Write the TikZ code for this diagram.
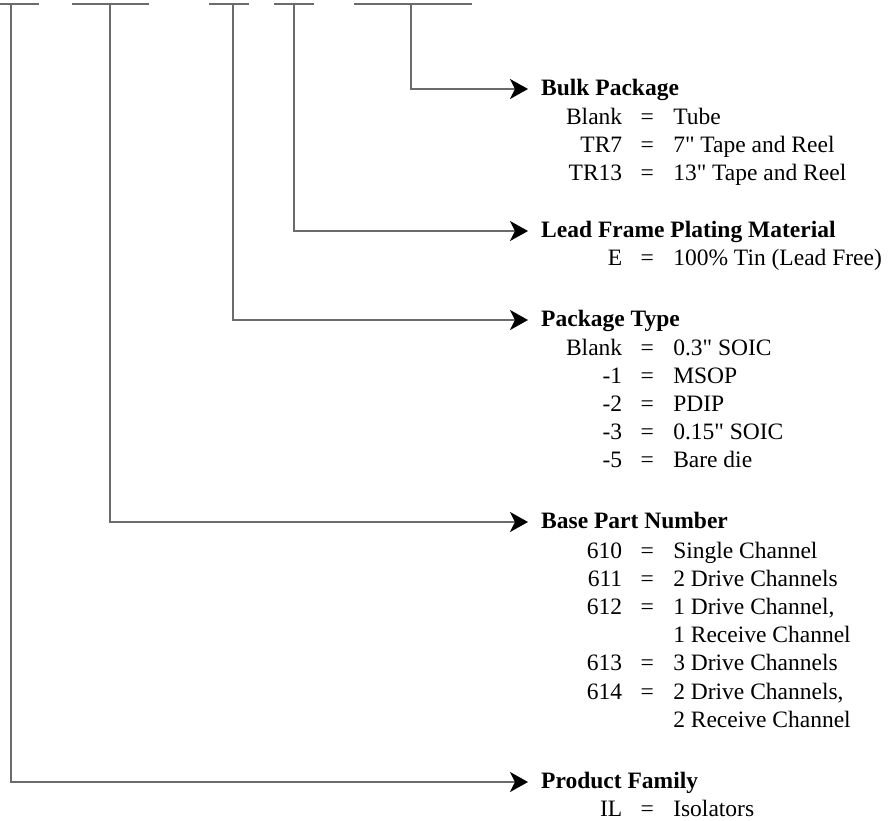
\documentclass[tikz,border=0pt]{standalone}
\usepackage{fontspec}
\setmainfont{Liberation Serif}[Ligatures=TeXOff]
\usepackage{array}
\usetikzlibrary{arrows.meta,positioning}

\newcommand{\partfont}{\fontsize{23.5}{28.2}\selectfont}
\newcolumntype{K}{>{\raggedleft\arraybackslash}p{81pt}}
\newenvironment{optlist}{\begin{tabular}[t]{@{}K@{\hspace{18.4pt}}c@{\hspace{19.4pt}}l@{}}}{\end{tabular}}

\begin{document}
\begin{tikzpicture}[
  x=1pt, y=-1pt, font=\partfont,
  wire/.style={draw=black!58, line width=2pt},
  ptr/.style={wire, -{Stealth[length=18pt, width=20pt, inset=5pt, color=black]}},
  head/.style={anchor=west, font=\partfont\bfseries, inner xsep=13pt, inner ysep=0pt,
               text height=13pt, text depth=0pt},
  opts/.style={anchor=base west, inner sep=0pt}
]
  \useasboundingbox (0,0) rectangle (888,820);

  % bars of the part number, one stem each
  \foreach \l/\r/\s/\n in {0/39/11/family, 72/149/110/base, 209/249/233/pkg,
                           274/314/294/plating, 354/472/411/bulk}{
    \draw[wire] (\l,4) -- (\r,4);
    \coordinate (\n-top) at (\s,4);
  }

  % field names
  \node[head] (bulk)    at (528,89)  {Bulk Package};
  \node[head] (plating) at (528,231) {Lead Frame Plating Material};
  \node[head] (pkg)     at (528,320) {Package Type};
  \node[head] (base)    at (528,522) {Base Part Number};
  \node[head] (family)  at (528,782) {Product Family};

  % options
  \node[opts] (bulk-opts) at (541,124) {\begin{optlist}
    Blank & = & Tube\\
    TR7 & = & 7" Tape and Reel\\
    TR13 & = & 13" Tape and Reel
  \end{optlist}};
  \node[opts] (plating-opts) at (541,265) {\begin{optlist}
    E & = & 100\% Tin (Lead Free)
  \end{optlist}};
  \node[opts] (pkg-opts) at (541,355) {\begin{optlist}
    Blank & = & 0.3" SOIC\\
    -1 & = & MSOP\\
    -2 & = & PDIP\\
    -3 & = & 0.15" SOIC\\
    -5 & = & Bare die
  \end{optlist}};
  \node[opts] (base-opts) at (541,558) {\begin{optlist}
    610 & = & Single Channel\\
    611 & = & 2 Drive Channels\\
    612 & = & 1 Drive Channel,\\
        &   & 1 Receive Channel\\
    613 & = & 3 Drive Channels\\
    614 & = & 2 Drive Channels,\\
        &   & 2 Receive Channel
  \end{optlist}};
  \node[opts] (family-opts) at (541,816) {\begin{optlist}
    IL & = & Isolators
  \end{optlist}};

  % pointers
  \draw[ptr] (bulk-top) |- (bulk);
  \draw[ptr] (plating-top) |- (plating);
  \draw[ptr] (pkg-top) |- (pkg);
  \draw[ptr] (base-top) |- (base);
  \draw[ptr] (family-top) |- (family);
\end{tikzpicture}
\end{document}
